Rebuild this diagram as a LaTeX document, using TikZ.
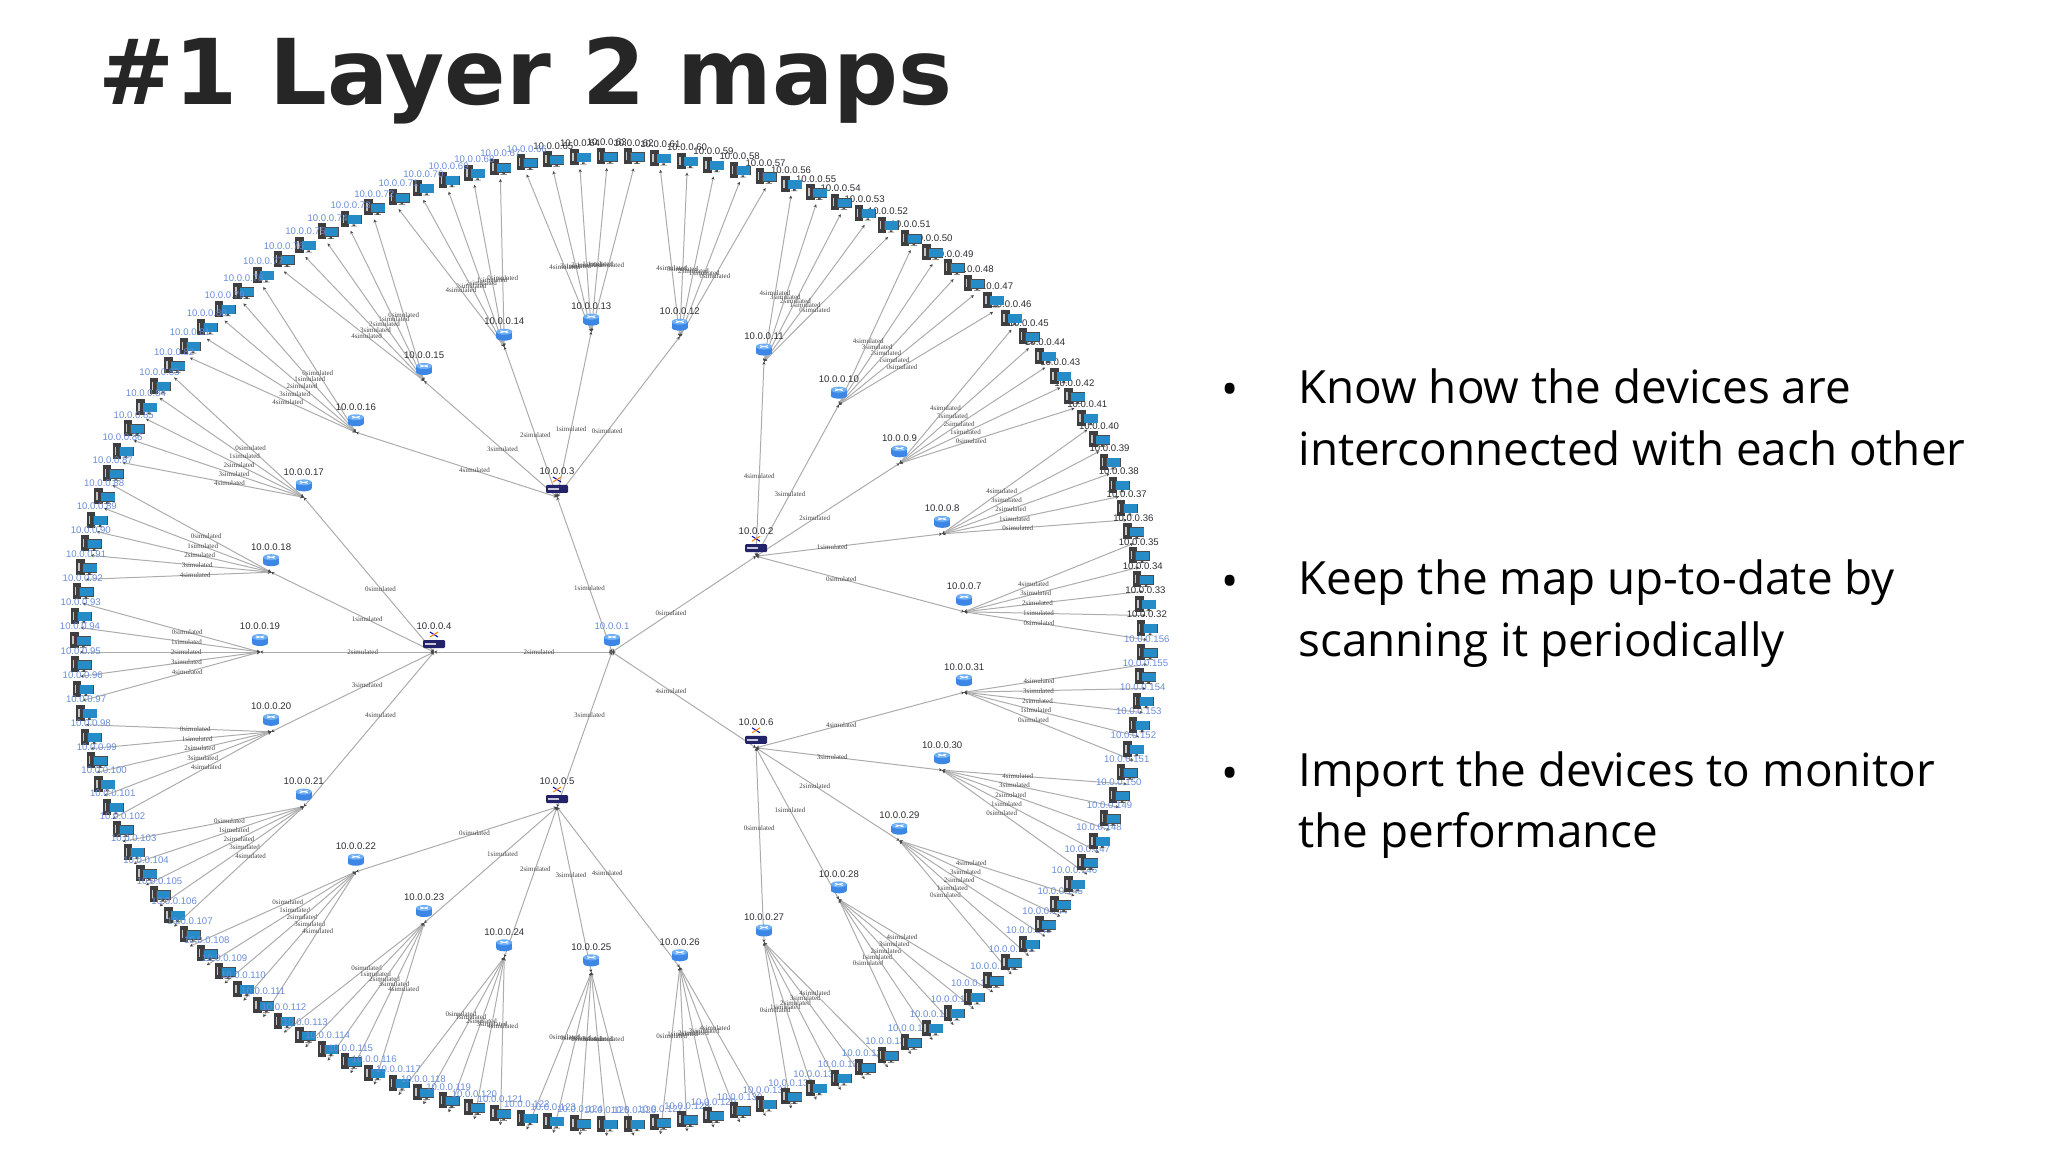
\documentclass[tikz,border=0pt]{standalone}
\usepackage{fontspec}
\setmainfont{Open Sans}
\newfontfamily\titlefont{DejaVu Sans}
\newfontfamily\labfont{Liberation Sans}
\newfontfamily\edgefont{Liberation Serif}
\usetikzlibrary{positioning,arrows.meta,backgrounds}
\definecolor{LinkGray}{RGB}{172,172,172}
\definecolor{TipGray}{RGB}{70,70,70}
\definecolor{LabDark}{RGB}{45,45,50}
\definecolor{LabBlue}{RGB}{105,140,215}
\definecolor{EdgeGray}{RGB}{70,70,70}
\definecolor{TowerDark}{RGB}{62,62,64}
\definecolor{ScreenBlue}{RGB}{38,140,200}
\definecolor{RouterBlue}{RGB}{60,135,230}
\definecolor{RouterTop}{RGB}{110,175,245}
\definecolor{SwitchNavy}{RGB}{35,35,105}
\begin{document}
\begin{tikzpicture}[
x=0.5pt,y=-0.5pt,
titlebox/.style={font=\titlefont\bfseries\fontsize{45.4}{50}\selectfont,text=black!85,inner sep=0,anchor=base west},
item/.style={font=\fontsize{22.9}{30.7}\selectfont,align=left,inner sep=0,anchor=west,text=black},
bull/.style={font=\fontsize{22.9}{30.7}\selectfont,inner sep=0,text=black},
devpt/.style={inner sep=0,outer sep=0,minimum size=0},
devlab/.style={font=\labfont\fontsize{4.8}{5}\selectfont,inner sep=0,text=LabDark},
lbl/.style={font=\edgefont\fontsize{3.5}{4}\selectfont,inner sep=0,text=EdgeGray,pos=.41},
link/.style={{Stealth[length=1.6pt,width=1.6pt,color=TipGray]}-{Stealth[length=1.6pt,width=1.6pt,color=TipGray]},draw=LinkGray,line width=.5pt},
hosticon/.pic={
\fill[TowerDark] (-10,-20) rectangle (-1.5,-4);
\fill[white!70!TowerDark] (-8,-16) rectangle (-6.5,-8);
\fill[black!70] (-3.5,-16) rectangle (11,-6.5);
\fill[ScreenBlue] (-3,-15.5) rectangle (10.5,-7);
\fill[black!70] (2,-6.5) rectangle (4.5,-5) (0,-5) rectangle (6.5,-4.5);
},
routericon/.pic={
\fill[RouterBlue] (-8,-15) rectangle (8,-9);
\fill[RouterBlue] (0,-9) ellipse (8 and 3);
\fill[RouterTop] (0,-15) ellipse (8 and 3);
\draw[white,line width=.4pt] (-4,-16) -- (4,-14) (-4,-14) -- (4,-16);
},
switchicon/.pic={
\fill[SwitchNavy,rounded corners=.6pt] (-11,-12) rectangle (11,-4);
\fill[white!75!SwitchNavy] (-9,-9) rectangle (2,-7);
\draw[blue!75!black,line width=.5pt] (-4,-20) -- (4,-15);
\draw[orange,line width=.5pt] (-4,-15) -- (4,-20);
}
]
\useasboundingbox (0,0) rectangle (2048,1152);
\node[titlebox] (ttl) at (98,104) {\#1 Layer 2 maps};

\node[item] (i1) at (1298,417.4) {Know how the devices are\\interconnected with each other};
\node[item] (i2) at (1298,613.6) {Keep the map up-to-date by\\scanning it periodically};
\node[item] (i3) at (1298,805.3) {Import the devices to monitor\\the performance};
\foreach \n/\y in {1/394,2/586,3/778} \node[bull] (b\n) at (1230,\y) {•};

\node[devpt] (d1) at (612,652) {};
\pic at (d1) {routericon};
\node[devlab,text=LabBlue,above=10.8pt of d1] (l1) {10.0.0.1};

\foreach \s in {2,...,6}{
\node[devpt] (d\s) at ({612+178*cos(36+72*(\s-2))},{652-163*sin(36+72*(\s-2))}) {};
\pgfmathtruncatemacro\k{\s-2}
\begin{scope}[on background layer]
\draw[link] (d1) -- node[lbl] {\k simulated} (d\s);
\end{scope}
\pic at (d\s) {switchicon};
\node[devlab,above=10.8pt of d\s] (l\s) {10.0.0.\s};
\foreach \k in {0,...,4}{
\pgfmathtruncatemacro\r{7+5*(\s-2)+\k}
\node[devpt] (d\r) at ({613.5+353.5*cos(7.2+14.4*(\r-7))},{652-321*sin(7.2+14.4*(\r-7))}) {};
\begin{scope}[on background layer]
\draw[link] (d\s) -- node[lbl] {\k simulated} (d\r);
\end{scope}
\pic at (d\r) {routericon};
\node[devlab,above=10.8pt of d\r] (l\r) {10.0.0.\r};
\foreach \m in {0,...,4}{
\pgfmathtruncatemacro\h{32+5*(\r-7)+\m}
\node[devpt] (d\h) at ({613.5+533.5*cos((\h-31.5)*2.88)},{652-484*sin((\h-31.5)*2.88)}) {};
\begin{scope}[on background layer]
\draw[link] (d\r) -- node[lbl] {\m simulated} (d\h);
\end{scope}
\pic at (d\h) {hosticon};
\ifnum\h<66 \def\hc{LabDark}\else\def\hc{LabBlue}\fi
\node[devlab,text=\hc,above=10.8pt of d\h] (l\h) {10.0.0.\h};
}
}
}
\end{tikzpicture}
\end{document}
